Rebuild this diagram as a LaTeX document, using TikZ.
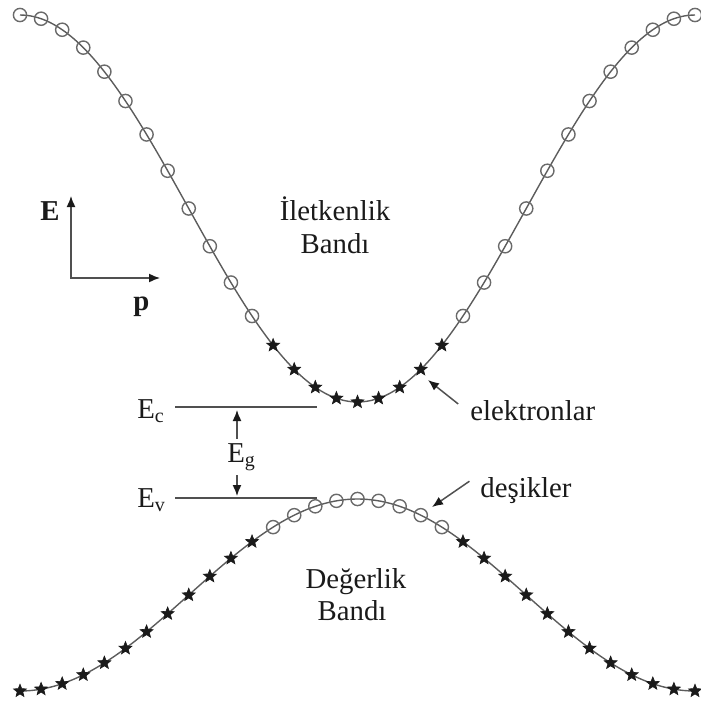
\documentclass[tikz,border=0pt]{standalone}
\usepackage{fontspec}
\setmainfont{Liberation Serif}
\usetikzlibrary{arrows.meta,positioning,shapes.geometric,calc}
\definecolor{ink}{HTML}{1A1A1A}
\definecolor{curvegray}{HTML}{5C5C5C}
\definecolor{holegray}{HTML}{6A6A6A}
\definecolor{linegray}{HTML}{505050}
\tikzset{
  every node/.style={font=\fontsize{14.4}{16.5}\selectfont, text=ink, inner sep=2pt},
  band/.style={draw=curvegray, line width=0.7pt},
  level/.style={draw=linegray, line width=0.8pt},
  hole/.style={circle, draw=holegray, line width=0.7pt, minimum size=6.6pt, inner sep=0pt},
  electron/.style={star, star points=5, star point ratio=2.3, fill=ink, draw=ink, line width=0.3pt, minimum size=6.8pt, inner sep=0pt},
  arrow/.style={-{Latex[length=5.5pt,width=4.5pt,color=ink]}, line width=0.75pt, draw=linegray},
  axes/.style={{Latex[length=5.5pt,width=4.5pt,color=ink]}-{Latex[length=5.5pt,width=4.5pt,color=ink]}, line width=0.75pt, draw=linegray},
  bandlabel/.style={anchor=base},
  axislabel/.style={font=\fontsize{14.4}{16.5}\selectfont\bfseries, anchor=base west},
  declare function={cb(\t)=208.5+193.5*cos((\t-357.5)*0.533333);
                    vb(\t)=595-96*cos((\t-357.5)*0.533333);
                    mx(\n)=20+21.09375*\n;},
}
\begin{document}
\begin{tikzpicture}[x=0.5pt, y=-0.5pt]
\useasboundingbox (0,0) rectangle (701,707);
% bands
\draw[band] plot[domain=20:695, samples=120, smooth] (\x, {cb(\x)});
\draw[band] plot[domain=20:695, samples=120, smooth] (\x, {vb(\x)});
\foreach \i in {0,...,32}{
  \ifnum\i<12 \def\upper{hole}\def\lower{electron}
  \else\ifnum\i>20 \def\upper{hole}\def\lower{electron}
  \else \def\upper{electron}\def\lower{hole}\fi\fi
  \node[\upper] (c\i) at ({mx(\i)}, {cb(mx(\i))}) {};
  \node[\lower] (v\i) at ({mx(\i)}, {vb(mx(\i))}) {};
}
\node[bandlabel] (cband) at (335,220) {İletkenlik};
\node[bandlabel] (cband2) at (335,253) {Bandı};
\node[bandlabel] (vband) at (356,588) {Değerlik};
\node[bandlabel] (vband2) at (352,620) {Bandı};
% axes
\coordinate (o) at (71,278);
\coordinate (eTip) at (71,196);
\coordinate (pTip) at (160,278);
\draw[axes] (eTip) -- (o) -- (pTip);
\node[axislabel] (E) at (36,220) {E};
\node[axislabel] (p) at (129,310) {p};
% levels
\node[anchor=base west] (ec) at (133,418) {E\textsubscript{c}};
\node[anchor=base west] (ev) at (133,507) {E\textsubscript{v}};
\coordinate (ecL) at (175,407);
\coordinate (ecR) at (317,407);
\coordinate (evL) at (175,498);
\coordinate (evR) at (317,498);
\draw[level] (ecL) -- (ecR);
\draw[level] (evL) -- (evR);
\node[anchor=base west] (eg) at (223,462) {E\textsubscript{g}};
\coordinate (gapTop) at (237,410);
\coordinate (gapBot) at (237,496);
\draw[arrow] (eg.north -| gapTop) -- (gapTop);
\draw[arrow] (eg.south -| gapBot) -- (gapBot);
% carriers
\node[anchor=base west] (el) at (466,420) {elektronlar};
\node[anchor=base west] (de) at (476,497) {deşikler};
\coordinate (elTip) at (428,380);
\coordinate (deTip) at (432,507);
\draw[arrow, shorten <=5pt] (el.west) -- (elTip);
\draw[arrow, shorten <=4pt] (de.165) -- (deTip);
\end{tikzpicture}
\end{document}
